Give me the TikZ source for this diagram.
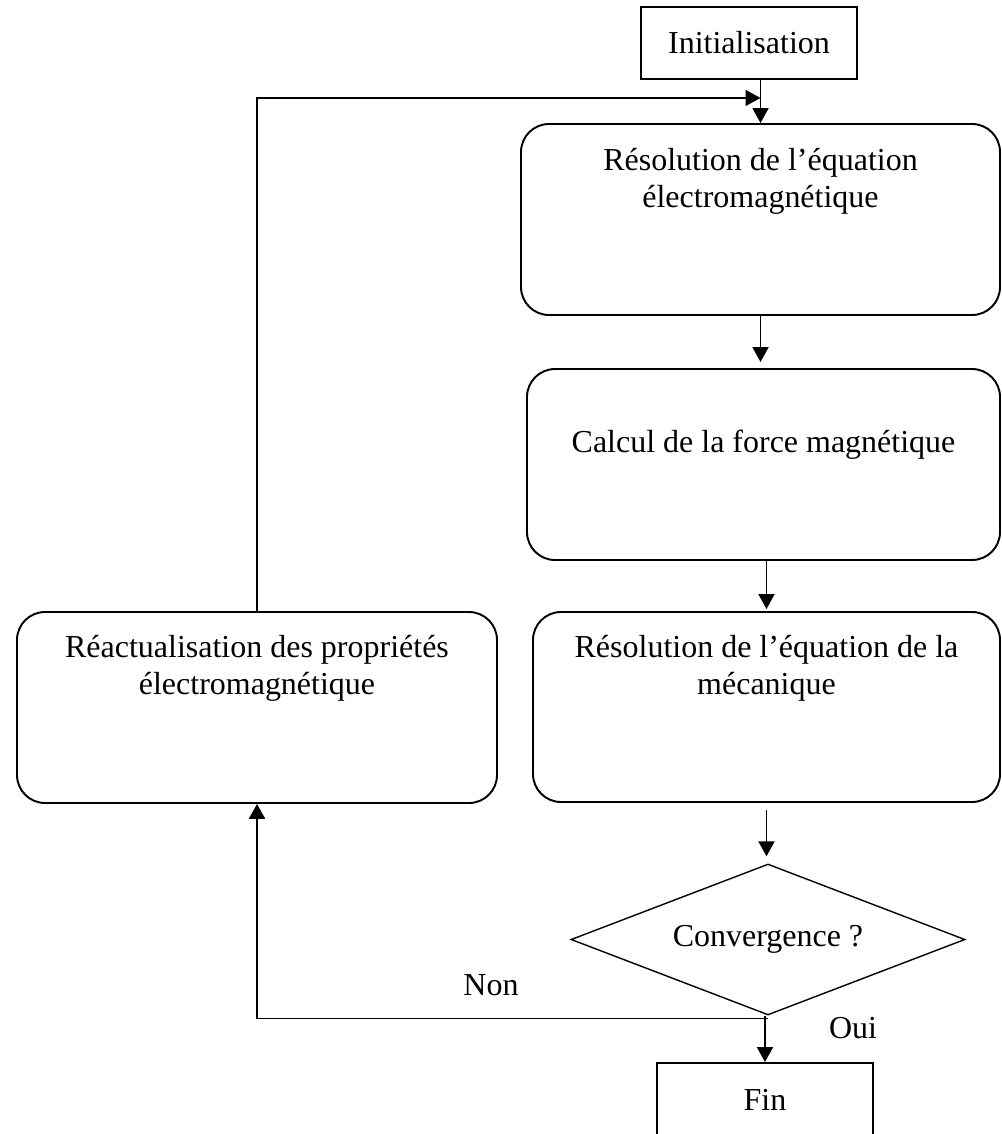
\documentclass[tikz,border=0pt]{standalone}
\usepackage{fontspec}
\setmainfont{Liberation Serif}
\usetikzlibrary{arrows.meta,calc,shapes.geometric}

\begin{document}
\begin{tikzpicture}[every node/.style={font=\fontsize{18.2}{21}\selectfont},box/.style={draw,line width=1.1pt,inner sep=0pt},rbox/.style={box,rounded corners=.56cm},txt/.style={align=center,inner sep=0pt},arr/.style={line width=1.1pt,-{Triangle[length=3mm,width=3.2mm]}},back/.style={line width=.8pt,-{Triangle[length=3mm,width=3.2mm]}}]
\useasboundingbox (0,0) rectangle (20.04,-22.68);
\node[box,minimum width=4.32cm,minimum height=1.44cm] (init) at (14.98,-.86){Initialisation};
\node[rbox,minimum width=9.58cm,minimum height=3.82cm] (resem) at (15.21,-4.39){};\node[txt] (resemtxt) at ($(resem.north)+(0,-1.16)$){Résolution de l’équation\\électromagnétique};
\node[rbox,minimum width=9.46cm,minimum height=3.82cm] (force) at (15.27,-9.29){};\node[txt] (forcetxt) at ($(force.north)+(0,-1.54)$){Calcul de la force magnétique};
\node[rbox,minimum width=9.34cm,minimum height=3.8cm] (meca) at (15.33,-14.14){};\node[txt] (mecatxt) at ($(meca.north)+(0,-1.14)$){Résolution de l’équation de la\\mécanique};
\node[rbox,minimum width=9.6cm,minimum height=3.82cm] (reac) at (5.14,-14.15){};\node[txt] (reactxt) at ($(reac.north)+(0,-1.14)$){Réactualisation des propriétés\\électromagnétique};
\node[box,diamond,aspect=2.6,minimum width=7.88cm,minimum height=3.02cm,line width=.8pt] (conv) at (15.36,-18.79){Convergence ?};
\node[box,minimum width=4.32cm,minimum height=1.46cm] (fin) at (15.3,-21.99){Fin};
\node (non) at (9.82,-19.7){Non};\node (oui) at (17.06,-20.56){Oui};
\draw[arr] (init.south -| resem.north)--(resem.north);
\draw[arr,shorten >=.12cm] (resem.south)--(resem.south |- force.north);
\draw[arr,shorten >=.04cm] (force.south -| meca.north)--(meca.north);
\draw[arr,shorten <=.14cm,shorten >=.14cm] (meca.south)--(meca.south |- conv.north);
\draw[arr] (conv.south -| fin.north)--(fin.north);
\coordinate (noncorner) at ($(conv.south -| reac.south)+(0,-.06)$);
\draw[line width=.8pt] (conv.south|-noncorner)--(noncorner);\draw[arr,line width=1.6pt] (noncorner)--(reac.south);
\coordinate (join) at ($(init.south -| resem.north)+(0,-.36)$);
\draw[back] (reac.north) |- (join);
\end{tikzpicture}
\end{document}
